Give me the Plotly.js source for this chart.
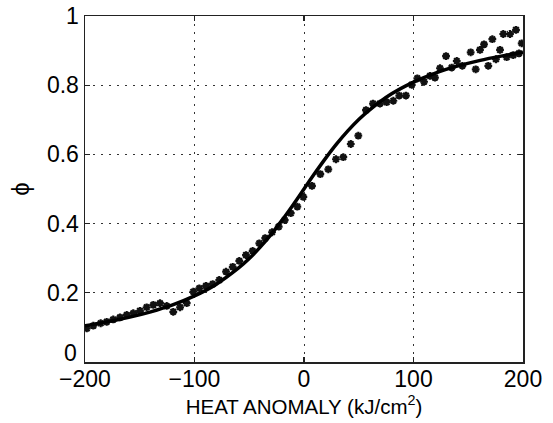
<!DOCTYPE html>
<html>
<head>
<meta charset="utf-8">
<script src="https://cdn.plot.ly/plotly-3.0.1.min.js"></script>
<style>html,body{margin:0;padding:0;background:#fff;}</style>
</head>
<body>
<div id="chart" style="width:553px;height:423px;"></div>
<script>
// Observed data (asterisks)
const obsX = [-198.4,-192.4,-185.7,-180.2,-174.2,-168.0,-161.9,-155.9,-149.8,-143.7,-137.6,-131.5,-125.4,-119.4,-113.2,-107.1,-101.1,-95.6,-89.5,-83.4,-77.4,-71.2,-65.1,-59.1,-53.0,-46.9,-40.8,-35.4,-29.2,-23.1,-17.6,-12.1,-6.1,-0.6,7.3,14.9,22.2,29.2,35.9,42.7,49.6,56.6,63.0,69.4,75.5,81.6,87.0,93.1,98.4,103.5,109.6,115.1,119.6,124.2,129.7,134.9,139.5,144.6,152.2,156.8,160.7,164.4,168.3,172.0,175.3,179.0,182.0,185.1,188.1,191.1,193.6,196.3,198.8];
const obsY = [0.097,0.105,0.112,0.116,0.123,0.129,0.136,0.141,0.148,0.158,0.165,0.170,0.162,0.145,0.158,0.170,0.203,0.213,0.220,0.225,0.237,0.261,0.275,0.292,0.309,0.321,0.343,0.358,0.375,0.391,0.410,0.430,0.449,0.477,0.509,0.543,0.557,0.586,0.592,0.630,0.654,0.728,0.747,0.747,0.751,0.755,0.770,0.770,0.801,0.820,0.810,0.827,0.822,0.849,0.884,0.851,0.870,0.856,0.895,0.846,0.902,0.918,0.856,0.933,0.875,0.902,0.948,0.881,0.948,0.887,0.960,0.892,0.921];
// Fitted curve
const fitX = [-200,-180,-160,-140,-120,-100,-80,-60,-50,-40,-30,-20,-10,0,10,20,30,40,50,60,80,100,120,140,160,180,200];
const fitY = [0.105,0.116,0.129,0.145,0.165,0.191,0.225,0.271,0.299,0.332,0.369,0.410,0.454,0.500,0.546,0.590,0.631,0.668,0.701,0.729,0.775,0.809,0.835,0.855,0.871,0.884,0.895];
const xTicks = [-200,-100,0,100,200];
const yTicks = [0,0.2,0.4,0.6,0.8,1];
const yTickLabels = ['', '0.2', '0.4', '0.6', '0.8', '1'];

const FONT = 'Liberation Sans, Arial, Helvetica, sans-serif';
const TICKSIZE = 23;

const traces = [
  {x: obsX, y: obsY, mode: 'markers', type: 'scatter',
   marker: {symbol: 'asterisk-open', size: 6.5, color: '#111', line: {color: '#111', width: 2.2}},
   hoverinfo: 'skip'},
  {x: fitX, y: fitY, mode: 'lines', type: 'scatter',
   line: {color: '#000', width: 3.5, shape: 'spline'}, hoverinfo: 'skip'}
];

const axisCommon = {
  showline: true, linecolor: '#222', linewidth: 1.5, mirror: 'ticks',
  ticks: 'inside', ticklen: 5, tickwidth: 1.2, tickcolor: '#222',
  showgrid: true, gridcolor: '#333', gridwidth: 1, griddash: '1.5px,6.5px',
  zeroline: false, tickfont: {family: FONT, size: TICKSIZE, color: '#000'}
};

const layout = {
  width: 553, height: 423,
  margin: {l: 85, r: 30, t: 16, b: 61},
  paper_bgcolor: '#fff', plot_bgcolor: '#fff',
  showlegend: false,
  xaxis: Object.assign({}, axisCommon, {
    range: [-200, 200], tickvals: xTicks, ticklabelstandoff: -4,
    title: {text: 'HEAT ANOMALY (kJ/cm<sup>2</sup>)', font: {family: FONT, size: 20.5, color: '#000'}, standoff: 3}
  }),
  yaxis: Object.assign({}, axisCommon, {
    range: [0, 1], tickvals: yTicks, ticktext: yTickLabels,
    title: {text: 'ϕ', font: {family: FONT, size: 24, color: '#000'}, standoff: 10}
  }),
  annotations: [
    {text: String(yTicks[0]), xref: 'paper', x: 0, yref: 'y', y: yTicks[0],
     xanchor: 'right', yanchor: 'middle', xshift: -6, yshift: 9, showarrow: false,
     font: {family: FONT, size: TICKSIZE, color: '#000'}}
  ]
};

Plotly.newPlot('chart', traces, layout, {staticPlot: true, displayModeBar: false});
</script>
</body>
</html>
